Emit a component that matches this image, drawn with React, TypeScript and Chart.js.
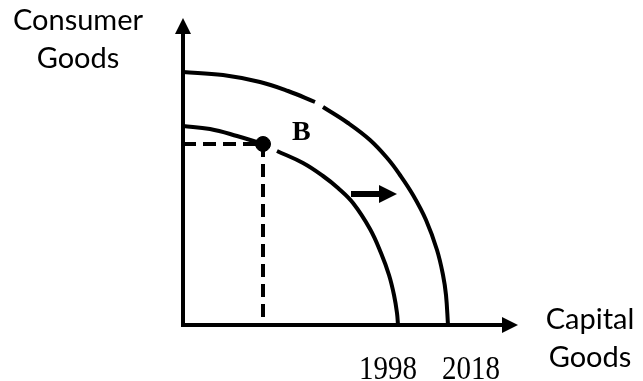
import React, { useEffect, useRef } from "react";
import { Chart, registerables } from "chart.js";

Chart.register(...registerables);

// Capital goods (x) vs consumer goods (y) in arbitrary units
const outerPPF2018: { x: number; y: number | null }[] = [
  { x: 0, y: 25.3 }, { x: 4, y: 25.0 }, { x: 7.7, y: 24.3 }, { x: 10.5, y: 23.4 },
  { x: 13.2, y: 22.3 }, { x: 13.6, y: null }, { x: 14, y: 21.8 }, { x: 16.5, y: 20.2 },
  { x: 18.7, y: 18.5 }, { x: 20.5, y: 16.6 }, { x: 21.7, y: 15.0 }, { x: 23, y: 13.0 },
  { x: 24.3, y: 10.5 }, { x: 25.4, y: 7.5 }, { x: 26.0, y: 5.0 }, { x: 26.3, y: 3.0 },
  { x: 26.5, y: 0 },
];
const innerPPF1998: { x: number; y: number | null }[] = [
  { x: 0, y: 19.9 }, { x: 2.7, y: 19.6 }, { x: 5.4, y: 18.9 }, { x: 8, y: 18.1 },
  { x: 8.7, y: null }, { x: 9.4, y: 17.4 }, { x: 12, y: 16.2 }, { x: 14, y: 14.9 },
  { x: 15.5, y: 13.7 }, { x: 17, y: 12.2 }, { x: 18.7, y: 9.6 }, { x: 19.8, y: 7.2 },
  { x: 20.6, y: 5.0 }, { x: 21.1, y: 3.0 }, { x: 21.4, y: 1.2 }, { x: 21.5, y: 0 },
];
const pointB = { x: 8, y: 18.1 };
const dashedGuide = [{ x: 0, y: 18.1 }, { x: 8, y: 18.1 }, { x: 8, y: 0 }];
const shiftArrowX = [16.8, 21.4];
const shiftArrowY = 13.1;
const yearLabels = ["1998", "2018"];
const yearLabelX = [20.5, 28.8];
const yAxisTitle = ["Consumer", "Goods"];
const xAxisTitle = ["Capital", "Goods"];
const pointLabel = "B";

const SANS = "Lato, 'Open Sans', sans-serif";
const SERIF = "'Liberation Serif', 'DejaVu Serif', serif";

const drawPlugin = {
  id: "ppfDecor",
  afterDatasetsDraw(chart: any) {
    const { ctx, chartArea, scales } = chart;
    const xs = scales.x;
    const ys = scales.y;
    const L = chartArea.left, R = chartArea.right, T = chartArea.top, B = chartArea.bottom;
    ctx.save();
    ctx.strokeStyle = "#000";
    ctx.fillStyle = "#000";
    ctx.lineWidth = 4;
    ctx.lineCap = "butt";
    // axes
    ctx.beginPath();
    ctx.moveTo(L, B + 2);
    ctx.lineTo(L, T + 14);
    ctx.moveTo(L - 2, B);
    ctx.lineTo(R - 14, B);
    ctx.stroke();
    // arrowheads
    ctx.beginPath();
    ctx.moveTo(L, T);
    ctx.lineTo(L - 8, T + 16);
    ctx.lineTo(L + 8, T + 16);
    ctx.closePath();
    ctx.fill();
    ctx.beginPath();
    ctx.moveTo(R, B);
    ctx.lineTo(R - 16, B - 8);
    ctx.lineTo(R - 16, B + 8);
    ctx.closePath();
    ctx.fill();
    // shift arrow
    const ax0 = xs.getPixelForValue(shiftArrowX[0]);
    const ax1 = xs.getPixelForValue(shiftArrowX[1]);
    const ay = ys.getPixelForValue(shiftArrowY);
    ctx.lineWidth = 6;
    ctx.beginPath();
    ctx.moveTo(ax0, ay);
    ctx.lineTo(ax1 - 16, ay);
    ctx.stroke();
    ctx.beginPath();
    ctx.moveTo(ax1, ay);
    ctx.lineTo(ax1 - 18, ay - 9);
    ctx.lineTo(ax1 - 18, ay + 9);
    ctx.closePath();
    ctx.fill();
    // texts
    ctx.textAlign = "center";
    ctx.textBaseline = "alphabetic";
    ctx.font = `29px ${SANS}`;
    ctx.fillText(yAxisTitle[0], L - 105, T + 12);
    ctx.fillText(yAxisTitle[1], L - 105, T + 50);
    ctx.fillText(xAxisTitle[0], R + 72, B + 4);
    ctx.fillText(xAxisTitle[1], R + 72, B + 42);
    ctx.font = `29px ${SERIF}`;
    yearLabels.forEach((t, i) => {
      const px = xs.getPixelForValue(yearLabelX[i]);
      ctx.save();
      ctx.translate(px, B + 54);
      ctx.scale(1, 1.18);
      ctx.fillText(t, 0, 0);
      ctx.restore();
    });
    ctx.font = `bold 28px ${SERIF}`;
    ctx.textAlign = "left";
    ctx.fillText(pointLabel, xs.getPixelForValue(pointB.x) + 29, ys.getPixelForValue(pointB.y) - 4);
    ctx.restore();
  },
};

export default function App() {
  const ref = useRef<HTMLCanvasElement>(null);
  useEffect(() => {
    if (!ref.current) return;
    const curve = {
      showLine: true,
      borderColor: "#000",
      borderWidth: 4,
      pointRadius: 0,
      tension: 0.4,
      spanGaps: false,
    };
    const chart = new Chart(ref.current, {
      type: "scatter",
      data: {
        datasets: [
          { label: "2018", data: outerPPF2018 as any, ...curve },
          { label: "1998", data: innerPPF1998 as any, ...curve },
          {
            label: "guide",
            data: dashedGuide,
            showLine: true,
            borderColor: "#000",
            borderWidth: 4,
            borderDash: [13, 7],
            pointRadius: 0,
            tension: 0,
          },
          {
            label: "B",
            data: [pointB],
            pointRadius: 7.5,
            pointBackgroundColor: "#000",
            pointBorderColor: "#000",
            showLine: false,
          },
        ],
      },
      options: {
        responsive: false,
        animation: false,
        layout: { padding: { left: 183, right: 125, top: 18, bottom: 56 } },
        plugins: { legend: { display: false }, tooltip: { enabled: false } },
        scales: {
          x: { type: "linear", min: 0, max: 33.5, display: false },
          y: { type: "linear", min: 0, max: 30.7, display: false },
        },
      },
      plugins: [drawPlugin],
    });
    return () => chart.destroy();
  }, []);
  return (
    <div style={{ position: "fixed", left: 0, top: 0, width: 643, height: 381, background: "#fff" }}>
      <canvas ref={ref} width={643} height={381} />
    </div>
  );
}
